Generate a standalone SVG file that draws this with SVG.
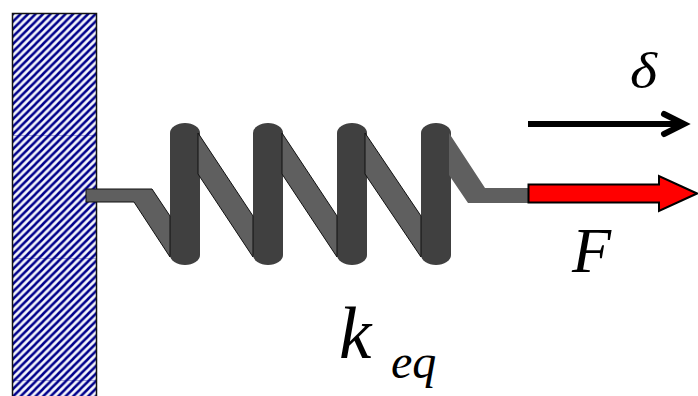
<svg xmlns="http://www.w3.org/2000/svg" width="698" height="396" viewBox="0 0 698 396">
<style>
.coil{fill:#5f5f5f;stroke:#111;stroke-width:1}
.post{fill:#404040}
.seam{stroke:#00008b;stroke-width:1;opacity:.3}
.lbl{font-family:"Liberation Serif","Times New Roman",serif;font-style:italic;fill:#000}
</style>
<defs>
<pattern id="hatch" width="7.500" height="7.500" patternUnits="userSpaceOnUse" patternTransform="translate(13 14)">
<rect width="7.500" height="7.500" fill="#f4f5fb"/>
<path d="M-2 2L2 -2M-2 9.500L9.500 -2M5.500 9.500L9.500 5.500" stroke="#00008b" stroke-width="2.500" fill="none"/>
</pattern>
<g id="post"><path class="post" d="M0 133A15 10 0 0 1 30 133V255A15 10 0 0 1 0 255Z"/></g>
</defs>
<g id="wall"><rect x="12.500" y="13.500" width="84" height="390" fill="url(#hatch)" stroke="#111" stroke-width="1.500"/>
<path class="seam" d="M13 135.500H96M13 258.500H96M13 380.500H96"/></g>
<g id="spring">
<use href="#post" x="170"/>
<use href="#post" x="253"/>
<use href="#post" x="337"/>
<use href="#post" x="421"/>
<path class="coil" d="M86 189H152L170 216V257L134 202H86Z"/>
<path class="coil" d="M198 133L253 216V257L198 174Z"/>
<path class="coil" d="M282 133L337 216V257L282 174Z"/>
<path class="coil" d="M365 133L421 216V257L365 174Z"/>
<path d="M449 133L485 188H528V203H468L449 175Z" fill="#5f5f5f"/>
</g>
<g id="connectors">
<path id="delta-arrow" d="M528 124H683" fill="none" stroke="#000" stroke-width="6"/>
<path id="delta-head" d="M664 114L684 124L664 134" fill="none" stroke="#000" stroke-width="6" stroke-linecap="round"/>
<path id="force-arrow" d="M528.500 184.500H659V176L697 193.500L659 211V202.500H528.500Z" fill="#f00" stroke="#000" stroke-width="2"/>
</g>
<g id="labels">
<text class="lbl" x="630" y="88" font-size="50" textLength="27" lengthAdjust="spacingAndGlyphs">δ</text>
<text class="lbl" x="572" y="272" font-size="64">F</text>
<text class="lbl" x="339" y="358" font-size="73">k</text>
<text class="lbl" x="391" y="378" font-size="48">eq</text>
</g>
</svg>
